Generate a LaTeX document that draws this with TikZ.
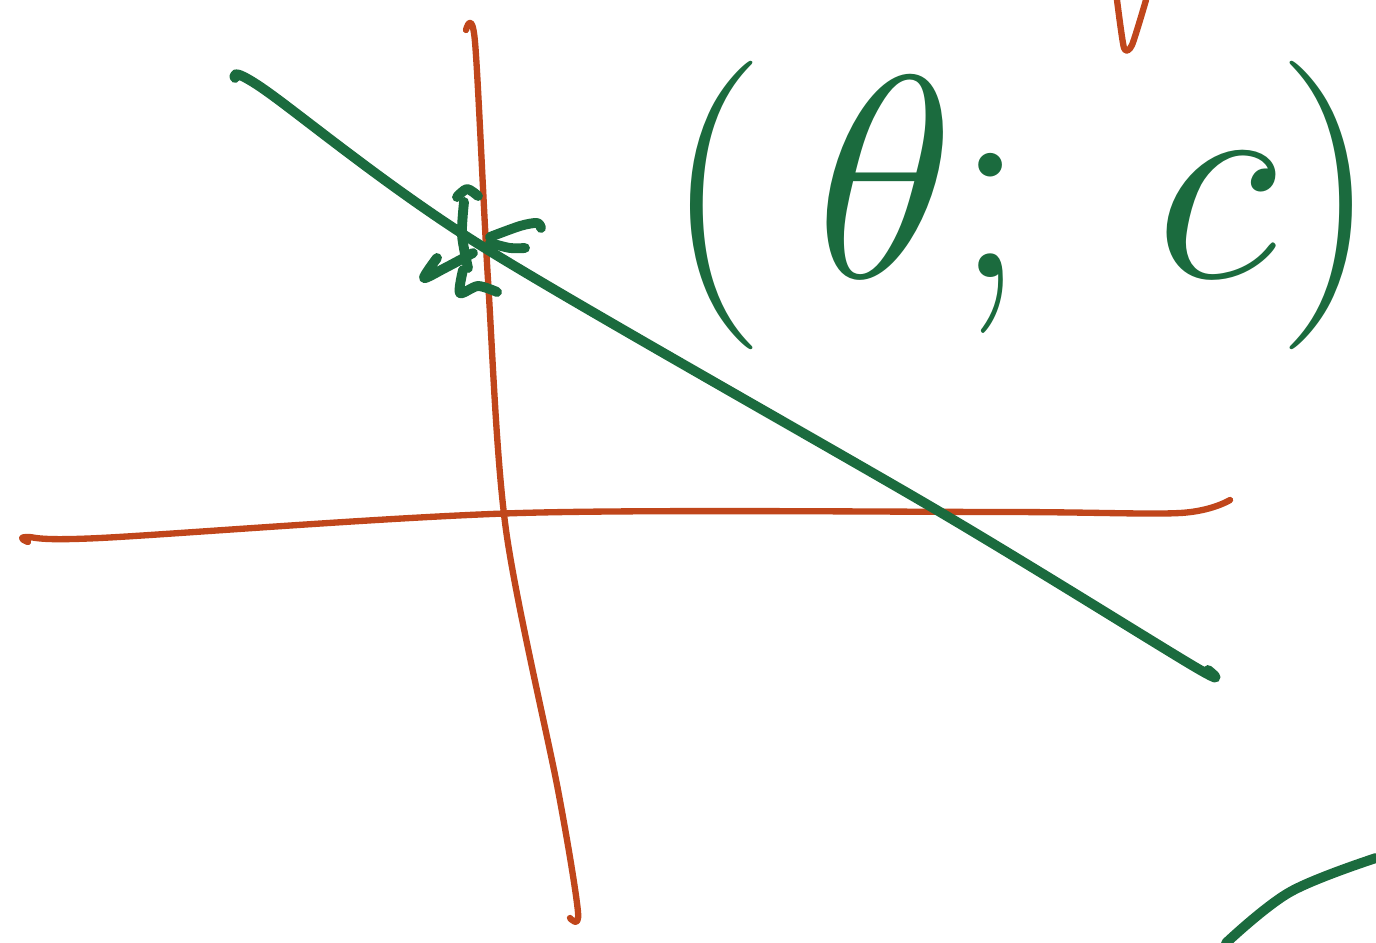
\documentclass[tikz,border=0pt]{standalone}
\usepackage{tikz}
\usepackage{xcolor}
\definecolor{PenRed}{HTML}{C0461B}
\definecolor{PenGreen}{HTML}{1B6B3E}
\tikzset{
  redpen/.style={draw=PenRed,line width=1.8pt,line cap=round,line join=round},
  greenpen/.style={draw=PenGreen,line width=2.8pt,line cap=round,line join=round},
  handtext/.style={text=PenGreen,font=\Huge,scale=3.3,inner sep=0pt}
}

\begin{document}
\begin{tikzpicture}[x=0.01cm,y=-0.01cm]
  \useasboundingbox[fill=white] (0,0) rectangle (1376,943);
  % axes
  \draw[redpen] plot[smooth,tension=0.5] coordinates
    {(466,30) (475,42) (488,280) (506,530) (558,790) (578,912) (570,918)};
  \draw[redpen] plot[smooth,tension=0.5] coordinates
    {(28,542) (26,537) (100,538) (520,513) (1000,512) (1180,513) (1230,500)};
  % mark at top
  \draw[redpen] plot[smooth,tension=0.4] coordinates
    {(1117,0) (1124,48) (1132,45) (1146,0)};
  % line through the point
  \draw[greenpen] plot[smooth,tension=0.5] coordinates
    {(235,78) (262,88) (480,245) (940,512) (1195,667) (1208,670)};
  % starred point
  \draw[greenpen] plot[smooth,tension=0.5] coordinates {(457,197) (467,189) (478,196)};
  \draw[greenpen] plot[smooth,tension=0.5] coordinates {(464,202) (462,235) (468,268)};
  \draw[greenpen] plot[smooth,tension=0.5] coordinates {(490,237) (520,226) (537,223) (541,228)};
  \draw[greenpen] plot[smooth,tension=0.5] coordinates {(490,243) (510,248) (525,248)};
  \draw[greenpen] plot[smooth,tension=0.5] coordinates {(473,253) (445,268) (424,278) (437,258)};
  \draw[greenpen] plot[smooth,tension=0.5] coordinates {(463,270) (460,293) (478,286) (497,292)};
  % label
  \node[handtext] (pair) at (1022,205) {$(\,\theta;\;c)$};
  % arc at the corner
  \draw[greenpen] plot[smooth,tension=0.6] coordinates {(1226,943) (1290,892) (1376,858)};
\end{tikzpicture}
\end{document}
